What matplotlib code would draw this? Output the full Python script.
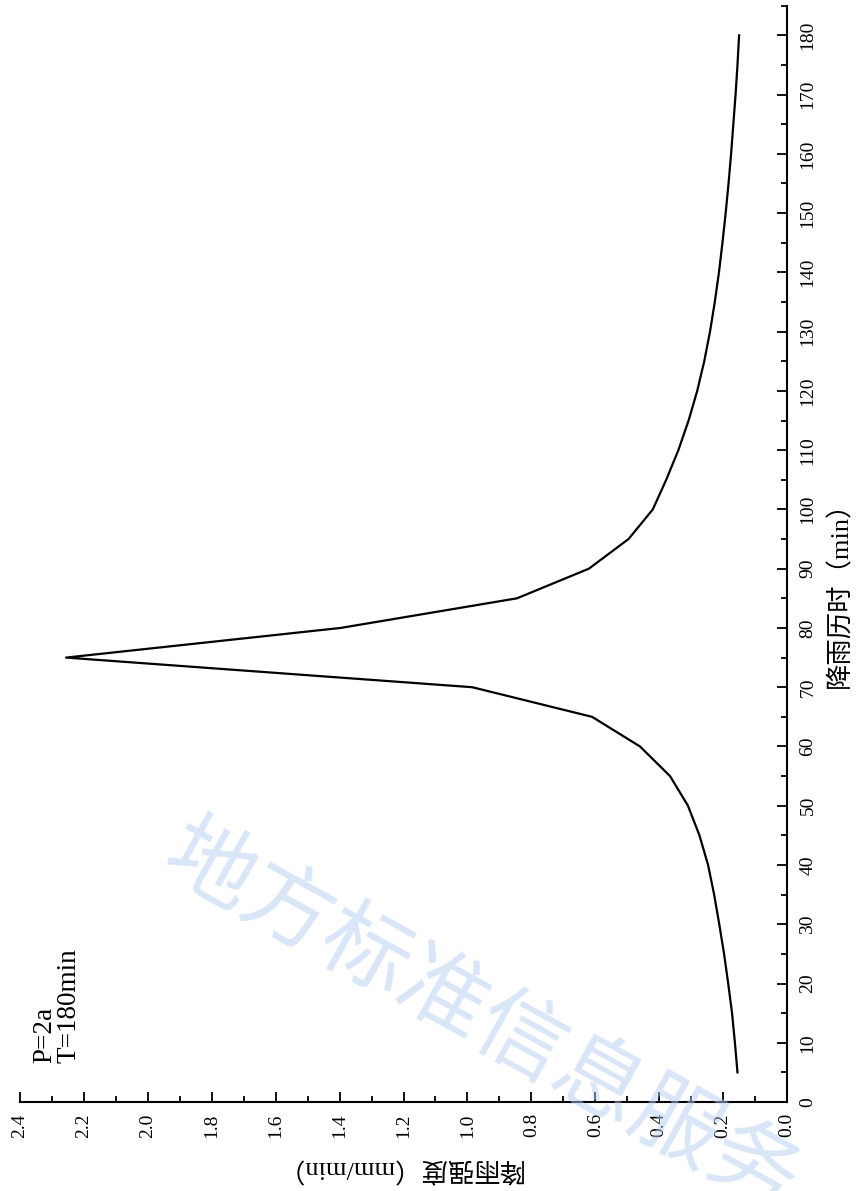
#import libs
import numpy as np
import matplotlib
matplotlib.use("Agg")
import matplotlib.pyplot as plt
from matplotlib.ticker import MultipleLocator

#fonts: serif for latin, CJK fallback for chinese
plt.rcParams['font.family'] = ['Liberation Serif', 'Noto Sans CJK SC', 'DejaVu Sans']

#rain duration (min) and rain intensity (mm/min)
duration = [5, 10, 15, 20, 25, 30, 35, 40, 45, 50, 55, 60, 65, 70, 75,
            80, 85, 90, 95, 100, 105, 110, 115, 120, 125, 130, 135, 140,
            145, 150, 155, 160, 165, 170, 175, 180]
intensity = [0.155, 0.163, 0.172, 0.184, 0.197, 0.212, 0.228, 0.247, 0.274,
             0.31, 0.366, 0.46, 0.61, 0.985, 2.256,
             1.397, 0.845, 0.62, 0.496, 0.42, 0.378, 0.340, 0.308, 0.281,
             0.259, 0.241, 0.226, 0.213, 0.202, 0.192, 0.183, 0.175, 0.168,
             0.161, 0.155, 0.150]

x_label = "降雨强度（mm/min）"
y_label = "降雨历时（min）"
note = "P=2a\nT=180min"
watermark = "地方标准信息服务"

#figure drawn in the rotated layout of the scan
fig = plt.figure(figsize=(8.59, 11.91), dpi=100)
ax = fig.add_axes([0.0233, 0.0747, 0.8929, 0.9205])

ax.plot(intensity, duration, color='black', linewidth=1.6)

ax.set_xlim(2.4, 0)
ax.set_ylim(0, 185)

#only bottom and right spines
ax.spines['top'].set_visible(False)
ax.spines['left'].set_visible(False)
ax.spines['bottom'].set_linewidth(1.5)
ax.spines['right'].set_linewidth(1.5)

ax.yaxis.tick_right()
ax.yaxis.set_label_position('right')

ax.xaxis.set_major_locator(MultipleLocator(0.2))
ax.xaxis.set_minor_locator(MultipleLocator(0.1))
ax.yaxis.set_major_locator(MultipleLocator(10))
ax.yaxis.set_minor_locator(MultipleLocator(5))
ax.set_yticks(np.arange(0, 181, 10))
ax.xaxis.set_major_formatter(plt.FuncFormatter(lambda v, p: "%.1f" % v))

ax.tick_params(which='both', direction='in', width=1.3, color='black')
ax.tick_params(which='major', length=7)
ax.tick_params(which='minor', length=4)
ax.tick_params(axis='x', which='major', labelsize=14, labelrotation=90, pad=8)
ax.tick_params(axis='y', which='major', labelsize=14, labelrotation=90, pad=9)
for lab in ax.get_yticklabels():
    lab.set_va('center')

ax.set_xlabel(x_label, fontsize=19, rotation=180)
ax.xaxis.set_label_coords(0.493, -0.060)
ax.xaxis.label.set_va('center')
ax.set_ylabel(y_label, fontsize=19, rotation=90)
ax.yaxis.set_label_coords(1.069, 0.469)
ax.yaxis.label.set_va('center')
ax.yaxis.label.set_ha('center')

ax.text(0.0156, 0.0356, note, transform=ax.transAxes, rotation=90,
        rotation_mode='anchor', ha='left', va='top', fontsize=19.5,
        linespacing=1.0)

#light watermark of the scanned page
fig.text(0.56, 0.144, watermark, rotation=-29, rotation_mode='anchor',
         ha='center', va='center', fontsize=64, color='#b4cdf2', alpha=0.5,
         family=['Noto Sans CJK SC'], zorder=0)

fig.savefig("out.png", dpi=100)
